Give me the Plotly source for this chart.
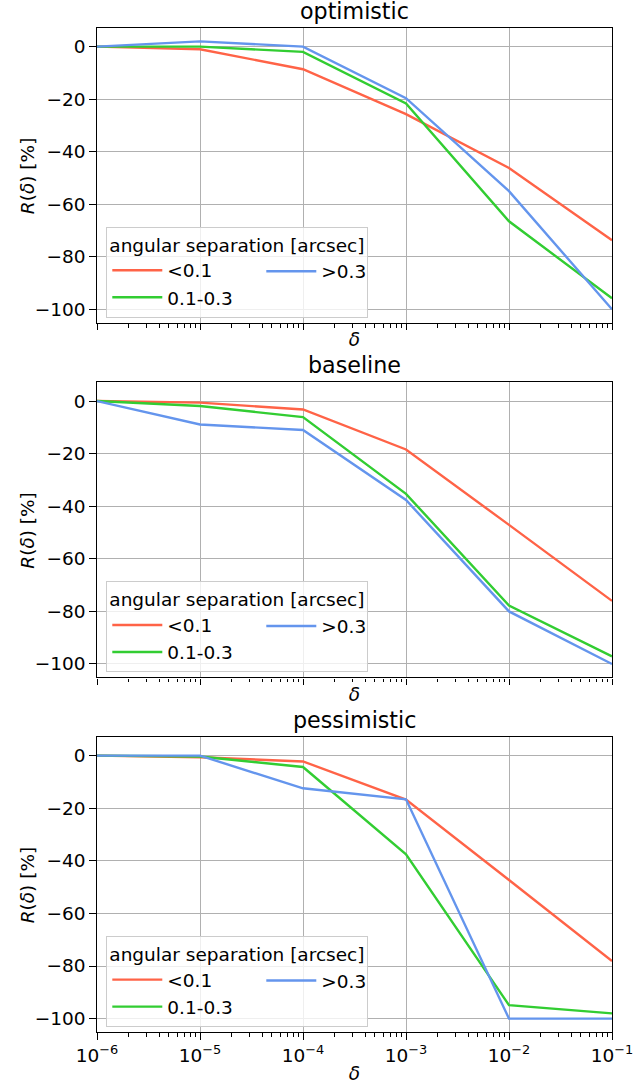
import numpy as np
import plotly.graph_objects as go

# ---- data -----------------------------------------------------------------
delta = [1e-6, 1e-5, 1e-4, 1e-3, 1e-2, 1e-1]
scenarios = ["optimistic", "baseline", "pessimistic"]
sep_bins = ["<0.1", "0.1-0.3", ">0.3"]
sep_colors = ["#ff6347", "#32cd32", "#6495ed"]

optimistic_lt01 = [0, -1, -8.6, -25.7, -46.2, -73.7]
optimistic_01_03 = [0, 0, -2, -21.6, -66.5, -95.8]
optimistic_gt03 = [0, 2, 0, -19.6, -55, -100]

baseline_lt01 = [0, -0.6, -3.2, -18.4, -47.1, -76]
baseline_01_03 = [0, -1.9, -6.1, -35.3, -77.8, -97.1]
baseline_gt03 = [0, -8.9, -11, -37.6, -80, -100]

pessimistic_lt01 = [0, -0.6, -2.2, -16.7, -47.3, -78.1]
pessimistic_01_03 = [0, -0.3, -4.3, -37.5, -94.9, -98]
pessimistic_gt03 = [0, 0, -12.4, -16.6, -100, -100]

series = {
    "optimistic": [optimistic_lt01, optimistic_01_03, optimistic_gt03],
    "baseline": [baseline_lt01, baseline_01_03, baseline_gt03],
    "pessimistic": [pessimistic_lt01, pessimistic_01_03, pessimistic_gt03],
}

y_ticks = [0, -20, -40, -60, -80, -100]
x_tickvals = [1e-6, 1e-5, 1e-4, 1e-3, 1e-2, 1e-1]
x_ticktext = ["10<sup>\u22126</sup>", "10<sup>\u22125</sup>", "10<sup>\u22124</sup>",
              "10<sup>\u22123</sup>", "10<sup>\u22122</sup>", "10<sup>\u22121</sup>"]

# ---- geometry (pixels) ----------------------------------------------------
W, H = 633, 1089
ML, MR, MT, MB = 96.7, 21.3, 28.3, 56.7
PW, PH = W - ML - MR, H - MT - MB
panel_px = [(28.3, 323.0), (382.7, 677.7), (737.3, 1032.3)]  # (top, bottom)


def py(v):
    """pixel y -> plot-area paper y"""
    return 1 - (v - MT) / PH


def px(v):
    return (v - ML) / PW


FONT = "DejaVu Sans"
TICK_FS = 18.5
LEG_FS = 18.5
TITLE_FS = 22.2

minor_vals = [k * 10.0 ** e for e in range(-6, -1) for k in range(2, 10)]

fig = go.Figure()
layout = dict(
    width=W, height=H,
    margin=dict(l=ML, r=MR, t=MT, b=MB, autoexpand=False),
    paper_bgcolor="white", plot_bgcolor="white",
    font=dict(family=FONT, size=TICK_FS, color="black"),
    showlegend=True,
    annotations=[],
)

for i, name in enumerate(scenarios):
    n = i + 1
    xa = "x" if n == 1 else f"x{n}"
    ya = "y" if n == 1 else f"y{n}"
    top, bot = panel_px[i]
    leg_a = f"legend{2 * i + 1}" if i > 0 else "legend"
    leg_b = f"legend{2 * i + 2}"

    for j, (lab, col) in enumerate(zip(sep_bins, sep_colors)):
        fig.add_trace(go.Scatter(
            x=delta, y=series[name][j], mode="lines", name=lab,
            line=dict(color=col, width=2.4),
            xaxis=xa, yaxis=ya,
            legend=leg_b if j == 2 else leg_a,
        ))

    layout[f"xaxis{'' if n == 1 else n}"] = dict(
        type="log", range=[-6, -1], domain=[0, 1], anchor=ya,
        tickvals=x_tickvals, ticktext=x_ticktext,
        showticklabels=(n == 3), ticklabeloverflow="allow",
        ticks="outside", ticklen=6.5, tickwidth=1.3, tickcolor="black",
        minor=dict(tickvals=minor_vals, ticks="outside", ticklen=3.7,
                   tickwidth=1, tickcolor="black", showgrid=False),
        showgrid=True, gridcolor="#b0b0b0", gridwidth=1.3,
        showline=True, linecolor="black", linewidth=1.3, mirror=True,
        zeroline=False,
        tickfont=dict(size=TICK_FS),
        title=dict(text="<i>\u03b4</i>", font=dict(size=TICK_FS),
                   standoff=3 if n < 3 else 2),
    )
    layout[f"yaxis{'' if n == 1 else n}"] = dict(
        range=[-105.1, 7.1], domain=[py(bot), py(top)], anchor=xa,
        tickvals=y_ticks,
        ticks="outside", ticklen=6.5, tickwidth=1.3, tickcolor="black",
        showgrid=True, gridcolor="#b0b0b0", gridwidth=1.3,
        showline=True, linecolor="black", linewidth=1.3, mirror=True,
        zeroline=False,
        tickfont=dict(size=TICK_FS),
    )

    leg_common = dict(
        orientation="v", xanchor="left", yanchor="top",
        font=dict(family=FONT, size=LEG_FS, color="black"),
        itemwidth=50, tracegroupgap=0,
    )
    layout[leg_a] = dict(
        leg_common,
        x=px(106), y=py(bot - 96),
        bgcolor="rgba(255,255,255,0.8)", bordercolor="#cccccc", borderwidth=1,
        title=dict(text="angular separation [arcsec]",
                   font=dict(family=FONT, size=LEG_FS, color="black")),
    )
    layout[leg_b] = dict(
        leg_common,
        x=px(261), y=py(bot - 70),
        bgcolor="rgba(0,0,0,0)", borderwidth=0,
    )

    # panel title
    layout["annotations"].append(dict(
        text=name, xref="paper", yref="paper", x=0.5, y=py(top),
        xanchor="center", yanchor="bottom", yshift=2, showarrow=False,
        font=dict(family=FONT, size=TITLE_FS, color="black"),
    ))
    # y-axis label
    layout["annotations"].append(dict(
        text="<i>R</i>(<i>\u03b4</i>) [%]", xref="paper", yref="paper",
        x=px(27.5), y=py((top + bot) / 2), xanchor="center", yanchor="middle",
        textangle=-90, showarrow=False,
        font=dict(family=FONT, size=TICK_FS, color="black"),
    ))

fig.update_layout(**layout)
fig.write_html("out.html")
